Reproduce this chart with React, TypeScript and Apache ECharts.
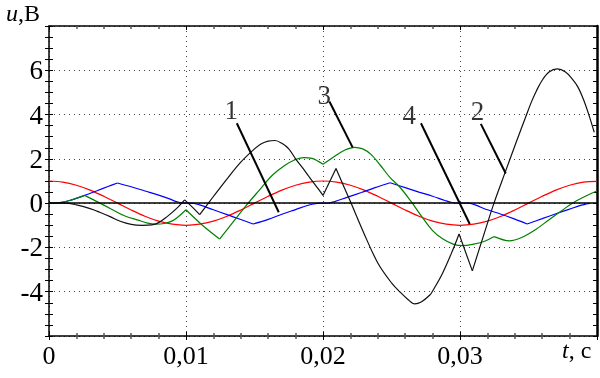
import React, { useEffect, useRef } from "react";
import * as echarts from "echarts";

// time axis (s) and voltage axis (V)
const tTicks = [0, 0.01, 0.02, 0.03, 0.04];
const uTicks = [-6, -4, -2, 0, 2, 4, 6, 8];

// curve red (sampled every 1 ms)
const redT = [0, 0.001, 0.002, 0.003, 0.004, 0.005, 0.006, 0.007, 0.008, 0.009, 0.01, 0.011, 0.012, 0.013, 0.014, 0.015, 0.016, 0.017, 0.018, 0.019, 0.02, 0.021, 0.022, 0.023, 0.024, 0.025, 0.026, 0.027, 0.028, 0.029, 0.03, 0.031, 0.032, 0.033, 0.034, 0.035, 0.036, 0.037, 0.038, 0.039, 0.04];
const redU = [1.0, 0.95, 0.81, 0.59, 0.31, 0.0, -0.31, -0.59, -0.81, -0.95, -1.0, -0.95, -0.81, -0.59, -0.31, 0.0, 0.31, 0.59, 0.81, 0.95, 1.0, 0.95, 0.81, 0.59, 0.31, 0.0, -0.31, -0.59, -0.81, -0.95, -1.0, -0.95, -0.81, -0.59, -0.31, 0.0, 0.31, 0.59, 0.81, 0.95, 0.98];
const redKinks: number[] = [];

// curve blue
const blueT = [0, 0.0008, 0.0015, 0.0025, 0.0035, 0.0043, 0.005, 0.006, 0.007, 0.008, 0.0088, 0.0093, 0.0097, 0.0105, 0.011, 0.012, 0.013, 0.014, 0.0149, 0.016, 0.017, 0.018, 0.0188, 0.0193, 0.0198, 0.0203, 0.0208, 0.0218, 0.0228, 0.0238, 0.0249, 0.026, 0.027, 0.028, 0.0289, 0.0294, 0.0299, 0.0306, 0.0311, 0.032, 0.033, 0.034, 0.0349, 0.036, 0.037, 0.038, 0.0388, 0.0392, 0.0395];
const blueU = [0, 0.03, 0.12, 0.33, 0.56, 0.75, 0.91, 0.74, 0.55, 0.36, 0.19, 0.07, 0.01, 0, -0.08, -0.3, -0.52, -0.74, -0.94, -0.73, -0.5, -0.29, -0.12, -0.04, 0, 0, 0.06, 0.27, 0.48, 0.7, 0.92, 0.7, 0.5, 0.31, 0.12, 0.03, 0, 0, -0.08, -0.3, -0.5, -0.72, -0.94, -0.7, -0.48, -0.27, -0.1, -0.04, -0.01];
const blueKinks = [0.005, 0.0149, 0.0249, 0.0349];

// curve green
const greenT = [0, 0.0008, 0.0015, 0.0026, 0.0035, 0.0045, 0.0055, 0.0065, 0.0072, 0.0078, 0.0084, 0.009, 0.0095, 0.01, 0.0112, 0.01245, 0.0134, 0.0144, 0.0154, 0.0163, 0.0172, 0.018, 0.0186, 0.0192, 0.02, 0.0208, 0.0216, 0.0223, 0.0229, 0.0235, 0.0242, 0.0249, 0.0256, 0.0264, 0.0272, 0.028, 0.0287, 0.0295, 0.0302, 0.031, 0.0318, 0.0325, 0.0336, 0.0345, 0.0355, 0.0365, 0.0374, 0.0382, 0.039, 0.04];
const greenU = [0, 0.03, 0.12, 0.35, 0.07, -0.25, -0.57, -0.77, -0.9, -0.95, -0.92, -0.8, -0.58, -0.3, -1.0, -1.62, -0.88, -0.1, 0.62, 1.26, 1.7, 1.97, 2.06, 2.02, 1.76, 2.1, 2.4, 2.52, 2.45, 2.2, 1.7, 1.15, 0.73, 0.1, -0.6, -1.24, -1.6, -1.85, -1.92, -1.85, -1.72, -1.51, -1.7, -1.55, -1.2, -0.75, -0.35, 0, 0.27, 0.55];
const greenKinks = [0.0026, 0.01, 0.01245, 0.02, 0.0325];

// curve black
const blackT = [0, 0.0012, 0.002, 0.003, 0.0037, 0.0045, 0.0052, 0.006, 0.0068, 0.0075, 0.008, 0.0086, 0.0093, 0.0099, 0.0105, 0.011, 0.012, 0.013, 0.014, 0.015, 0.0155, 0.016, 0.0165, 0.017, 0.0175, 0.018, 0.0185, 0.019, 0.0195, 0.02, 0.02095, 0.022, 0.023, 0.024, 0.025, 0.0256, 0.0262, 0.0267, 0.0272, 0.0278, 0.028, 0.0287, 0.02945, 0.02993, 0.0309, 0.0317, 0.03248, 0.0333, 0.0341, 0.0348, 0.0352, 0.0356, 0.036, 0.0365, 0.0371, 0.0377, 0.0382, 0.0386, 0.039, 0.0394, 0.0398];
const blackU = [0, 0, -0.08, -0.25, -0.41, -0.62, -0.82, -0.96, -1.0, -0.98, -0.88, -0.62, -0.25, 0.15, -0.2, -0.52, 0.3, 1.1, 1.85, 2.45, 2.68, 2.8, 2.83, 2.7, 2.45, 2.0, 1.6, 1.18, 0.77, 0.35, 1.56, 0.07, -1.38, -2.7, -3.6, -4.0, -4.35, -4.55, -4.45, -4.15, -3.97, -3.2, -2.15, -1.39, -3.06, -1.5, 0, 1.4, 2.75, 3.9, 4.55, 5.1, 5.55, 5.92, 6.06, 5.92, 5.6, 5.25, 4.7, 4.0, 3.2];
const blackKinks = [0.0099, 0.011, 0.02, 0.02095, 0.02993, 0.0309];

// callouts
const calloutNames = ["1", "3", "4", "2"];
const calloutTextT = [0.01331, 0.0201, 0.02629, 0.03127];
const calloutTextU = [4.2, 4.88, 4.0, 4.16];
const calloutFromT = [0.01371, 0.02047, 0.02715, 0.03152];
const calloutFromU = [3.61, 4.59, 3.61, 3.58];
const calloutToT = [0.01677, 0.02216, 0.03071, 0.03334];
const calloutToU = [-0.41, 2.52, -0.94, 1.34];

// split a curve at its corner points so that each piece is smoothed separately
function pieces(t: number[], u: number[], kinks: number[]) {
  const out: number[][][] = [];
  let cur: number[][] = [];
  t.forEach((tv, i) => {
    cur.push([tv, u[i]]);
    if (kinks.indexOf(tv) >= 0 && i > 0 && i < t.length - 1) {
      out.push(cur);
      cur = [[tv, u[i]]];
    }
  });
  if (cur.length > 1) out.push(cur);
  return out;
}

const SERIF = "'Liberation Serif', 'Times New Roman', serif";

export default function App() {
  const ref = useRef<HTMLDivElement>(null);
  useEffect(() => {
    if (!ref.current) return;
    const chart = echarts.init(ref.current, undefined, { renderer: "svg" });
    const tMin = tTicks[0];
    const tMax = tTicks[tTicks.length - 1];
    const uMin = uTicks[0];
    const uMax = uTicks[uTicks.length - 1];
    const dotted = { show: true, lineStyle: { color: "#444", width: 1, type: [1, 4] as any } };
    const baseX = {
      type: "value" as const,
      min: tMin,
      max: tMax,
      interval: 0.01,
      splitLine: { show: false },
      axisLabel: { show: false },
    };
    const baseY = {
      type: "value" as const,
      min: uMin,
      max: uMax,
      interval: 2,
      splitLine: { show: false },
      axisLabel: { show: false },
    };
    const tickStyle = { color: "#000", width: 1 };
    const curve = (name: string, t: number[], u: number[], kinks: number[], color: string, z: number) =>
      pieces(t, u, kinks).map((d) => ({
        type: "line",
        name,
        data: d,
        showSymbol: false,
        smooth: 0.35,
        z,
        lineStyle: { color, width: 1.2 },
      }));
    const option: any = {
      animation: false,
      grid: { left: 49, right: 2, top: 26, bottom: 42, containLabel: false },
      xAxis: [
        {
          ...baseX,
          position: "bottom",
          axisLine: { show: true, onZero: false, lineStyle: { color: "#000", width: 1.5 } },
          axisTick: { show: true, inside: false, length: 4, lineStyle: tickStyle },
          minorTick: { show: true, splitNumber: 5, length: 3, lineStyle: { color: "#555", width: 1.5 } },
          splitLine: dotted,
          axisLabel: {
            show: true,
            margin: 6,
            color: "#000",
            fontFamily: SERIF,
            fontSize: 26,
            showMaxLabel: true,
            formatter: (v: number) => {
              const n = Math.round(v * 100);
              if (n === 4) return "";
              return n === 0 ? "0" : "0,0" + n;
            },
          },
        },
        {
          ...baseX,
          position: "bottom",
          axisLine: { show: false, onZero: false },
          axisTick: { show: true, inside: true, length: 4, lineStyle: tickStyle },
          minorTick: { show: true, splitNumber: 5, length: 3, lineStyle: { color: "#555", width: 1.5 } },
        },
        {
          ...baseX,
          position: "top",
          axisLine: { show: true, onZero: false, lineStyle: { color: "#000", width: 1.5 } },
          axisTick: { show: true, inside: true, length: 4, lineStyle: tickStyle },
          minorTick: { show: true, splitNumber: 5, length: 3, lineStyle: { color: "#555", width: 1.5 } },
        },
      ],
      yAxis: [
        {
          ...baseY,
          position: "left",
          axisLine: { show: true, onZero: false, lineStyle: { color: "#000", width: 1.5 } },
          axisTick: { show: true, inside: false, length: 4, lineStyle: tickStyle },
          minorTick: { show: true, splitNumber: 4, length: 4, lineStyle: tickStyle },
          splitLine: dotted,
          axisLabel: {
            show: true,
            margin: 6,
            color: "#000",
            fontFamily: SERIF,
            fontSize: 27,
            formatter: (v: number) => (v === uMax || v === uMin ? "" : String(v)),
          },
        },
        {
          ...baseY,
          position: "left",
          axisLine: { show: false, onZero: false },
          axisTick: { show: true, inside: true, length: 4, lineStyle: tickStyle },
          minorTick: { show: true, splitNumber: 4, length: 4, lineStyle: tickStyle },
        },
        {
          ...baseY,
          position: "right",
          axisLine: { show: true, onZero: false, lineStyle: { color: "#000", width: 2.5 } },
          axisTick: { show: true, inside: true, length: 4, lineStyle: tickStyle },
          minorTick: { show: true, splitNumber: 4, length: 4, lineStyle: tickStyle },
        },
      ],
      graphic: [
        {
          type: "text",
          left: 6,
          top: 1,
          style: {
            text: "{i|u},B",
            font: `24px ${SERIF}`,
            fill: "#000",
            rich: { i: { fontStyle: "italic", fontFamily: SERIF, fontSize: 24, fill: "#000" } },
          },
        },
        {
          type: "text",
          left: 562,
          top: 338,
          style: {
            text: "{i|t}, c",
            font: `24px ${SERIF}`,
            fill: "#000",
            rich: { i: { fontStyle: "italic", fontFamily: SERIF, fontSize: 24, fill: "#000" } },
          },
        },
      ],
      series: [
        ...curve("red", redT, redU, redKinks, "#ff0000", 2),
        ...curve("blue", blueT, blueU, blueKinks, "#0000ff", 2),
        ...curve("green", greenT, greenU, greenKinks, "#008000", 2),
        ...curve("black", blackT, blackU, blackKinks, "#111111", 2),
        {
          type: "scatter",
          name: "callouts",
          symbolSize: 0,
          z: 3,
          data: calloutNames.map((n, i) => ({ value: [calloutTextT[i], calloutTextU[i]], name: n })),
          label: {
            show: true,
            position: "inside",
            formatter: (p: any) => p.name,
            fontFamily: SERIF,
            fontSize: 27,
            color: "#000",
          },
          markLine: {
            silent: true,
            symbol: ["none", "none"],
            label: { show: false },
            lineStyle: { color: "#000", width: 2, type: "solid" },
            data: [
              { yAxis: 0, lineStyle: { color: "#000", width: 1.5, type: "solid" } },
              ...calloutNames.map((_, i) => [
                { coord: [calloutFromT[i], calloutFromU[i]] },
                { coord: [calloutToT[i], calloutToU[i]] },
              ]),
            ],
          },
        },
      ],
    };
    chart.setOption(option);
    return () => chart.dispose();
  }, []);
  return <div ref={ref} style={{ position: "fixed", left: 0, top: 0, width: 600, height: 378 }} />;
}
